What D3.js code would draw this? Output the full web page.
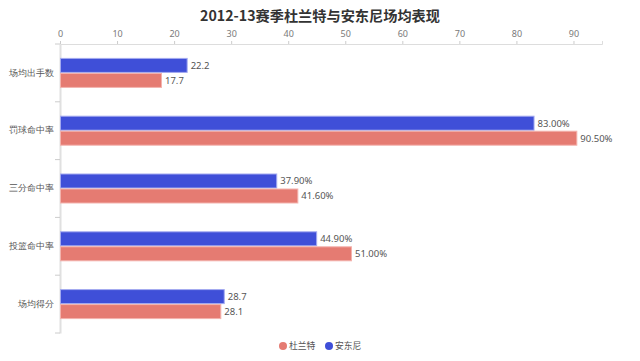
<!DOCTYPE html>
<html><head><meta charset="utf-8">
<script src="https://cdn.jsdelivr.net/npm/d3@7"></script>
<style>body{margin:0;background:#fff;} svg{display:block;font-family:"Noto Sans CJK SC","Noto Sans",sans-serif;}</style>
</head><body><svg id="c" width="640" height="361"></svg>
<script>
const title = "2012-13赛季杜兰特与安东尼场均表现";
const categories = ["场均出手数","罚球命中率","三分命中率","投篮命中率","场均得分"];
const isPercent = [false,true,true,true,false];
const seriesNames = ["安东尼","杜兰特"];
const anthony = [22.2,83.00,37.90,44.90,28.7];
const durant = [17.7,90.50,41.60,51.00,28.1];
const xTicks = [0,10,20,30,40,50,60,70,80,90];
const colors = {"杜兰特":"#e57b72","安东尼":"#3f4fd8"};
const strokes = {"杜兰特":"#f3b3ad","安东尼":"#a3aaf0"};

const svg = d3.select("#c");
const L = 60, R = 602, T = 44, B = 333;
const x = d3.scaleLinear().domain([0,95]).range([L,R]);
const y = d3.scaleBand().domain(categories).range([T,B]);
const barH = 14, gap = 1;

svg.append("text").attr("x",320).attr("y",21).attr("text-anchor","middle")
  .attr("font-size",14.2).attr("font-weight","bold").attr("fill","#333").text(title);

// top axis
const ax = d3.axisTop(x).tickValues(xTicks).tickSize(3).tickPadding(4);
const gx = svg.append("g").attr("transform",`translate(0,${T})`).call(ax);
gx.select(".domain").attr("stroke","#ddd");
gx.selectAll(".tick line").attr("stroke","#ccc");
gx.selectAll(".tick text").attr("fill","#7a7a7a").attr("font-size",9).attr("font-family","Noto Sans, sans-serif");

// left axis
const ay = d3.axisLeft(y).tickSize(0).tickPadding(6);
const gy = svg.append("g").attr("transform",`translate(${L},0)`).call(ay);
gy.select(".domain").attr("stroke","#e0e0e0").attr("stroke-width",2);
gy.selectAll(".tick text").attr("fill","#555").attr("font-size",8.7);
// band boundary ticks
const bounds = categories.map(c=>y(c)).concat([B]);
svg.selectAll(".bt").data(bounds).enter().append("line")
  .attr("x1",L-5).attr("x2",L).attr("y1",d=>d).attr("y2",d=>d).attr("stroke","#ccc");

const fmt = (v,i)=> isPercent[i] ? v.toFixed(2)+"%" : String(v);

const series = [{name:"安东尼",vals:anthony,off:-barH-gap/2},{name:"杜兰特",vals:durant,off:gap/2}];
series.forEach(s=>{
  const g = svg.append("g");
  g.selectAll("rect").data(s.vals).enter().append("rect")
    .attr("x",x(0)+0.5)
    .attr("y",(d,i)=>y(categories[i])+y.bandwidth()/2+s.off)
    .attr("width",d=>x(d)-x(0))
    .attr("height",barH)
    .attr("fill",colors[s.name])
    .attr("stroke",strokes[s.name]).attr("stroke-width",1);
  g.selectAll("text").data(s.vals).enter().append("text")
    .attr("x",d=>x(d)+4)
    .attr("y",(d,i)=>y(categories[i])+y.bandwidth()/2+s.off+barH/2)
    .attr("dy","0.35em").attr("font-size",9.5).attr("fill","#555")
    .attr("font-family","Noto Sans, sans-serif")
    .text((d,i)=>fmt(d,i));
});

// legend
const legend = [{name:"杜兰特",cx:283},{name:"安东尼",cx:329}];
legend.forEach(l=>{
  svg.append("circle").attr("cx",l.cx).attr("cy",346).attr("r",4).attr("fill",colors[l.name]);
  svg.append("text").attr("x",l.cx+6).attr("y",346).attr("dy","0.35em").attr("font-size",8.8)
    .attr("fill","#555").text(l.name);
});
</script></body></html>
